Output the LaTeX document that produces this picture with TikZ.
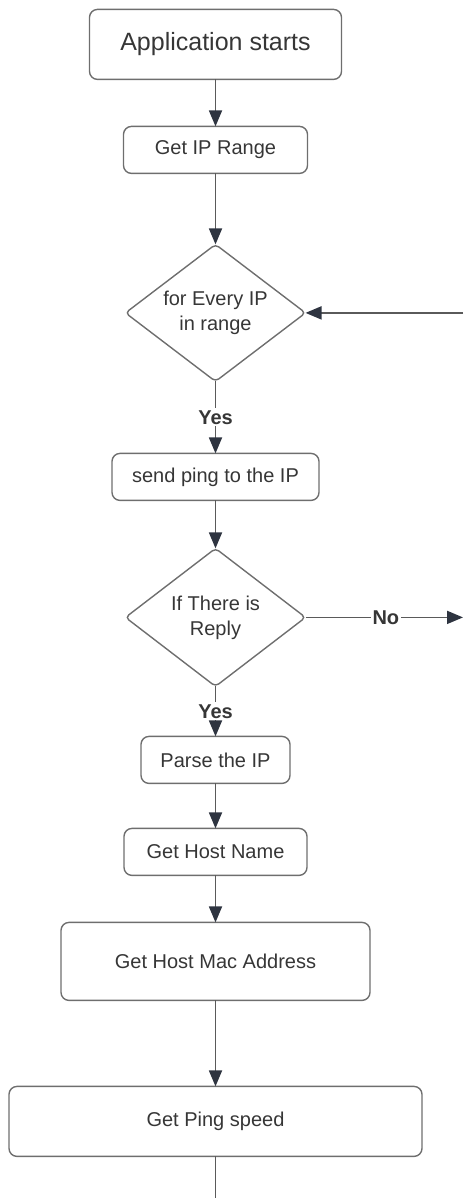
\documentclass[tikz,border=0pt]{standalone}
\usepackage{fontspec}
\setmainfont{Liberation Sans}
\usetikzlibrary{shapes.geometric,% for the diamonds
                arrows.meta,% for the filled tips
                chains,% joins the steps
                scopes}

\definecolor{boxgray}{HTML}{6E6E6E}
\definecolor{inkgray}{HTML}{363636}
\definecolor{tipdark}{HTML}{2E3440}
\definecolor{wiregray}{HTML}{5A5A5A}

\begin{document}
\begin{tikzpicture}[
  x=0.5pt, y=-0.5pt,
  >={Triangle[length=8pt,width=6.5pt,color=tipdark]},
  process/.style={
    rectangle,
    rounded corners=4pt,
    draw=boxgray,
    line width=0.7pt,
    text=inkgray,
    inner sep=0pt, outer sep=0pt,
    font=\fontsize{10}{12.5}\selectfont
  },
  decision/.style={
    diamond, aspect=1.3,
    rounded corners=2pt,
    draw=boxgray, line width=0.7pt,
    text=inkgray, inner sep=0pt, outer sep=0pt,
    minimum width=90pt, minimum height=68.5pt,
    align=center,
    font=\fontsize{10}{12.5}\selectfont
  },
  answer/.style={fill=white, inner sep=1pt, text=inkgray,
    font=\fontsize{10}{12}\selectfont\bfseries},
  wire/.style={draw=wiregray, line width=0.9pt},
  every join/.style={->, wire}
]
\useasboundingbox (0,0) rectangle (464,1198);

\matrix (flow) at (215.5,8.3) [anchor=north, inner sep=0pt] {
  % start
  \node (start) [process, minimum width=126pt, minimum height=35pt,
                 font=\fontsize{12.5}{15}\selectfont] {Application starts};\\[22.8pt]
  \node (range) [process, minimum width=92pt, minimum height=23.5pt] {Get IP Range};\\[34.8pt]
  % loop over the range
  \node (loop)  [decision] {for Every IP\\in range};\\[35.3pt]
  \node (ping)  [process, minimum width=103.5pt, minimum height=23.5pt] {send ping to the IP};\\[23.3pt]
  \node (check) [decision, minimum height=69pt] {If There is\\Reply};\\[24.3pt]
  % host details
  \node (parse) [process, minimum width=74.5pt, minimum height=23.5pt] {Parse the IP};\\[21.8pt]
  \node (host)  [process, minimum width=91.5pt, minimum height=23.5pt] {Get Host Name};\\[22.8pt]
  \node (mac)   [process, minimum width=154.5pt, minimum height=39pt] {Get Host Mac Address};\\[42.3pt]
  \node (speed) [process, minimum width=206.5pt, minimum height=35pt] {Get Ping speed};\\
};

{ [start chain]
  \chainin (start);
  \chainin (range) [join];
  \chainin (loop)  [join];
  \chainin (ping)  [join=by {edge node={node[answer]{Yes}}}];
  \chainin (check) [join];
  \chainin (parse) [join=by {edge node={node[answer]{Yes}}}];
  \chainin (host)  [join];
  \chainin (mac)   [join];
  \chainin (speed) [join];
}

% loose ends at the border
\coordinate (back) at (463,0 |- loop.east);
\coordinate (skip) at (463,0 |- check.east);
\coordinate (tail) at (speed.south |- 0,1198);

\draw[->, wire] (back) -- (loop.east);
\draw[->, wire] (check.east) -- node[answer, pos=0.51] {No} (skip);
\draw[wire] (speed.south) -- (tail);
\end{tikzpicture}
\end{document}
